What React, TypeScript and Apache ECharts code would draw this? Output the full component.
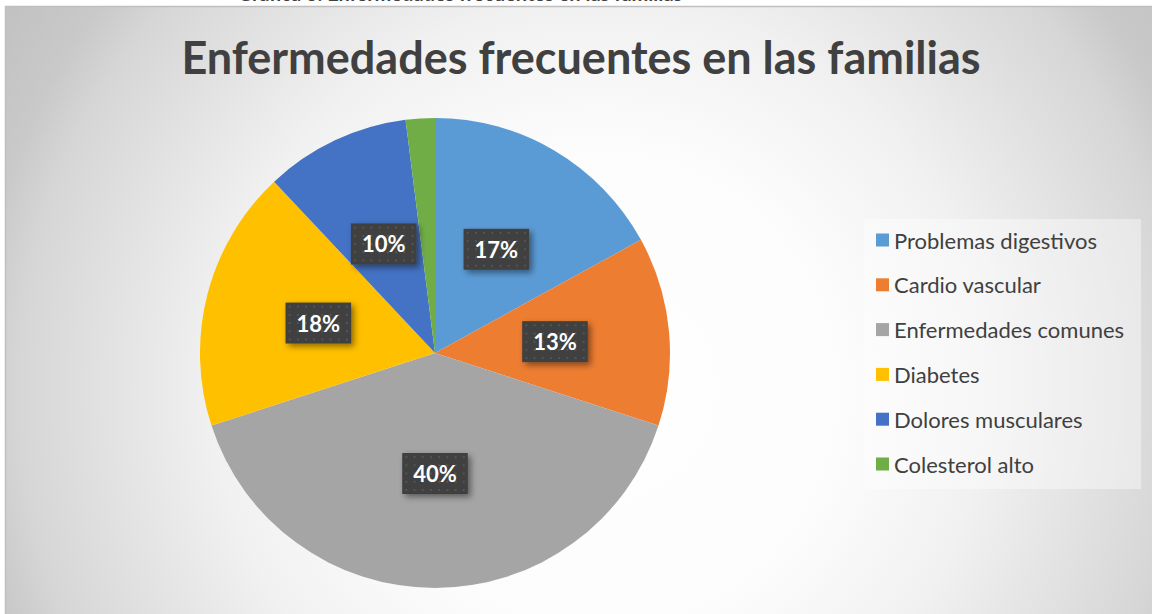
import React, { useEffect, useRef } from "react";
import * as echarts from "echarts";

const categories = [
  "Problemas digestivos",
  "Cardio vascular",
  "Enfermedades comunes",
  "Diabetes",
  "Dolores musculares",
  "Colesterol alto",
];
const values = [17, 13, 40, 18, 10, 2];
const colors = ["#5B9BD5", "#ED7D31", "#A5A5A5", "#FFC000", "#4472C4", "#70AD47"];
const titleText = "Enfermedades frecuentes en las familias";
const captionText = "Gráfica 3. Enfermedades frecuentes en las familias";

function makePattern(): string {
  const c = document.createElement("canvas");
  c.width = 64;
  c.height = 40;
  const ctx = c.getContext("2d");
  if (!ctx) return "";
  ctx.fillStyle = "#3f3f3f";
  ctx.fillRect(0, 0, 64, 40);
  ctx.fillStyle = "#545454";
  for (let y = 3; y < 40; y += 8) {
    for (let x = 3; x < 64; x += 8) {
      ctx.fillRect(x, y, 2, 2);
    }
  }
  return c.toDataURL();
}

export default function App() {
  const ref = useRef<HTMLDivElement>(null);
  useEffect(() => {
    if (!ref.current) return;
    const chart = echarts.init(ref.current, undefined, { renderer: "svg" });
    const pattern = makePattern();
    const bg = new echarts.graphic.RadialGradient(
      600,
      390,
      700,
      [
        { offset: 0, color: "#ffffff" },
        { offset: 0.35, color: "#fcfcfc" },
        { offset: 0.55, color: "#f1f1f1" },
        { offset: 0.83, color: "#d6d6d6" },
        { offset: 0.9, color: "#c9c9c9" },
        { offset: 1, color: "#c2c2c2" },
      ],
      true
    );
    chart.setOption({
      animation: false,
      backgroundColor: "#ffffff",
      graphic: [
        {
          type: "rect",
          z: -10,
          shape: { x: 5.5, y: 6.5, width: 1150, height: 612 },
          style: { fill: bg as any, stroke: "#bfbfbf", lineWidth: 1.5 },
          silent: true,
        },
        {
          type: "rect",
          z: -9,
          shape: { x: 864, y: 219, width: 277, height: 270 },
          style: { fill: "rgba(255,255,255,0.4)" },
          silent: true,
        },
        {
          type: "text",
          z: -11,
          x: 460,
          y: 3,
          style: {
            text: captionText,
            font: "bold 20px Lato",
            fill: "#404040",
            align: "center",
            verticalAlign: "bottom",
          },
          silent: true,
        },
      ],
      title: {
        text: titleText,
        left: 576,
        top: 29,
        textAlign: "center",
        textStyle: {
          fontFamily: "Lato",
          fontWeight: "bold",
          fontSize: 45,
          color: "#404040",
        },
      },
      legend: {
        orient: "vertical",
        left: 876,
        top: 229,
        padding: 0,
        itemWidth: 13,
        itemHeight: 13,
        itemGap: 22.8,
        icon: "rect",
        data: categories,
        textStyle: {
          fontFamily: "Lato",
          fontSize: 22,
          lineHeight: 22,
          color: "#404040",
        },
        selectedMode: false,
      },
      series: [
        {
          type: "pie",
          center: [435, 353],
          radius: 235,
          startAngle: 90,
          clockwise: true,
          silent: true,
          data: categories.map((name, i) => ({
            name,
            value: values[i],
            itemStyle: { color: colors[i] },
          })),
          itemStyle: { borderWidth: 0 },
          label: {
            show: true,
            position: "inside",
            formatter: "{c}%",
            fontFamily: "Lato",
            fontWeight: "bold",
            fontSize: 22,
            color: "#ffffff",
            backgroundColor: pattern ? { image: pattern } : "#404040",
            padding: [10, 11, 10, 11],
            shadowColor: "rgba(0,0,0,0.45)",
            shadowBlur: 6,
            shadowOffsetX: 3,
            shadowOffsetY: 3,
          },
          labelLine: { show: false },
          emphasis: { disabled: true },
        },
      ],
    });
    return () => chart.dispose();
  }, []);
  return (
    <div
      ref={ref}
      style={{ position: "fixed", left: 0, top: 0, width: 1152, height: 614 }}
    />
  );
}
